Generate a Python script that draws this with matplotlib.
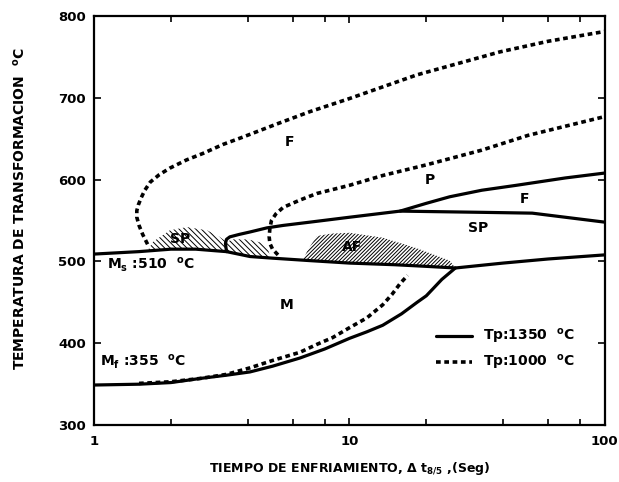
import numpy as np
import matplotlib
matplotlib.use('Agg')
import matplotlib.pyplot as plt
from matplotlib.ticker import FixedLocator, NullFormatter
from matplotlib.lines import Line2D

plt.rcParams['font.family'] = ['DejaVu Sans']
plt.rcParams['font.weight'] = 'bold'
plt.rcParams['axes.labelweight'] = 'bold'
plt.rcParams['mathtext.default'] = 'regular'
plt.rcParams['hatch.linewidth'] = 0.7

# Ms line (solid, Tp 1350)
ms_t = [1, 1.5, 2, 2.5, 3, 3.3, 4.08, 5, 7, 10, 15, 20, 26, 40, 60, 100]
ms_T = [509, 512, 515, 515, 513, 512, 506, 504, 501, 498, 496, 494, 492, 498, 503, 508]

# lower solid curve (Tp 1350)
low_solid_t = [1, 1.5, 2, 2.6, 3.3, 4.08, 5, 6.4, 8, 10, 11.7, 13.5, 16, 18.4, 20, 21.3, 23, 26]
low_solid_T = [349, 350, 352, 357, 361, 365, 372, 382, 393, 406, 414, 422, 436, 450, 458, 467, 478, 492]

# lower dashed curve (Tp 1000)
low_dash_t = [1.5, 2, 2.6, 3.3, 4.08, 5, 6.4, 7.5, 8.6, 10, 11.7, 13.5, 14.7, 15.8, 16.9]
low_dash_T = [351, 353, 357, 362, 370, 379, 389, 399, 407, 419, 431, 447, 460, 473, 483]

# SP start (solid, Tp 1350)
sp_t = [3.3, 3.27, 3.3, 3.4, 3.7, 4.08, 4.75, 5.5, 7, 10, 15.8, 20, 33, 52, 70, 100]
sp_T = [512, 522, 527, 530, 533, 536, 541, 544, 548, 554, 561.5, 561, 560, 559, 554, 548]

# F / P boundary (solid, Tp 1350)
fp_t = [15.8, 20, 24.7, 33, 45, 70, 100]
fp_T = [561.5, 571, 579, 587, 593, 602, 608]

# outer F start (dashed, Tp 1000)
f_out_t = [1.62, 1.55, 1.5, 1.47, 1.47, 1.49, 1.53, 1.58, 1.66, 1.8, 1.98, 2.3, 2.67,
           3.2, 3.83, 5.2, 7, 10, 18.4, 38.8, 60, 100]
f_out_T = [521, 533, 544, 554, 562, 569, 578, 587, 597, 606, 614, 624, 632,
           643, 652, 668, 683, 699, 728, 756, 769, 781]

# inner P start (dashed, Tp 1000)
p_in_t = [5.25, 5.0, 4.88, 4.85, 4.88, 4.95, 5.15, 5.5, 6.4, 7.45, 10, 13.5, 20, 33, 50, 100]
p_in_T = [508, 515, 522, 530, 540, 550, 558, 566, 575, 583, 593, 605, 618, 636, 654, 677]

# hatched SP region (Tp 1000)
sp_hatch_t = [1.62, 1.7, 1.98, 2.31, 2.77, 3.1, 3.3, 3.5, 4.0, 4.5, 4.8, 4.9, 4.08, 3.3, 3.0, 2.5, 2.0, 1.62]
sp_hatch_T = [513, 524, 538, 542, 538, 530, 524, 527, 527, 523, 515, 505, 506, 512, 513, 515, 515, 513]

# hatched AF region
af_t = [6.6, 6.87, 7.45, 8.5, 10, 13.5, 18.4, 24.7, 26, 20, 15, 10, 7, 6.6]
af_T = [503, 514, 531, 534, 535, 529, 516, 501, 492, 494, 496, 498, 501, 503]

fig = plt.figure(figsize=(6.19, 4.82), dpi=100)
ax = fig.add_axes([0.152, 0.118, 0.825, 0.849])

ax.fill(sp_hatch_t, sp_hatch_T, facecolor='none', edgecolor='black', hatch='\\' * 6, linewidth=0)
ax.fill(af_t, af_T, facecolor='none', edgecolor='black', hatch='/' * 9, linewidth=0)

solid = dict(color='black', linewidth=2.3, solid_capstyle='round', solid_joinstyle='round')
dash = dict(color='black', linewidth=2.6, linestyle=(0, (1.3, 1.0)))

ax.plot(ms_t, ms_T, **solid)
ax.plot(low_solid_t, low_solid_T, **solid)
ax.plot(sp_t, sp_T, **solid)
ax.plot(fp_t, fp_T, **solid)
ax.plot(low_dash_t, low_dash_T, **dash)
ax.plot(f_out_t, f_out_T, **dash)
ax.plot(p_in_t, p_in_T, **dash)

ax.set_xscale('log')
ax.set_xlim(1, 100)
ax.set_ylim(300, 800)

ax.xaxis.set_major_locator(FixedLocator([1, 10, 100]))
ax.xaxis.set_minor_locator(FixedLocator([2, 4, 6, 8, 20, 40, 60, 80]))
ax.xaxis.set_minor_formatter(NullFormatter())
ax.set_xticklabels(['1', '10', '100'])
ax.set_yticks([300, 400, 500, 600, 700, 800])

ax.tick_params(which='both', direction='in', top=True, right=True, labelsize=9.5, width=1.2)
ax.tick_params(which='major', length=5)
ax.tick_params(which='minor', length=4)
ax.tick_params(axis='x', pad=7)
ax.tick_params(axis='y', pad=6)
for s in ax.spines.values():
    s.set_linewidth(1.6)

ax.set_ylabel('TEMPERATURA DE TRANSFORMACION  $^{o}$C', fontsize=10)
ax.yaxis.set_label_coords(-0.13, 0.53)
ax.set_xlabel('TIEMPO DE ENFRIAMIENTO, $\\Delta$ t$_{8/5}$ ,(Seg)', fontsize=9, labelpad=9)

lab = dict(fontsize=10, ha='center', va='center')
ax.text(5.84, 646, 'F', **lab)
ax.text(20.6, 600, 'P', **lab)
ax.text(48.3, 576, 'F', **lab)
ax.text(31.8, 541, 'SP', **lab)
ax.text(2.17, 527, 'SP', **lab)
ax.text(10.2, 518, 'AF', **lab)
ax.text(5.69, 447, 'M', **lab)
ax.text(1.12, 496, 'M$_{s}$ :510  $^{o}$C', fontsize=10, ha='left', va='center')
ax.text(1.055, 377, 'M$_{f}$ :355  $^{o}$C', fontsize=10, ha='left', va='center')

handles = [Line2D([], [], **solid), Line2D([], [], **dash)]
ax.legend(handles, ['Tp:1350  $^{o}$C', 'Tp:1000  $^{o}$C'], loc='center left',
          bbox_to_anchor=(0.645, 0.185), frameon=False, fontsize=10,
          handlelength=2.6, handletextpad=0.8, labelspacing=0.5)

fig.savefig('out.png', dpi=100)
